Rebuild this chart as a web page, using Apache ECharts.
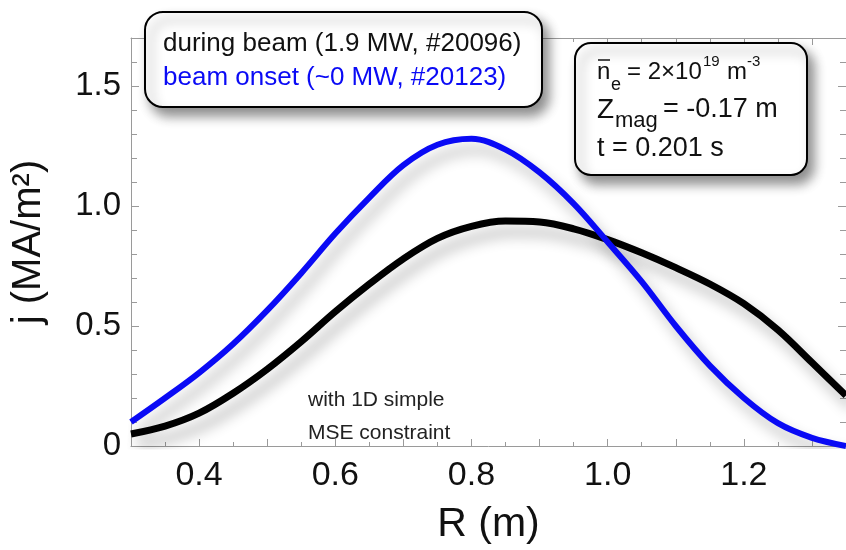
<!DOCTYPE html>
<html>
<head>
<meta charset="utf-8">
<script src="https://cdn.jsdelivr.net/npm/echarts@6/dist/echarts.min.js"></script>
<style>
  html, body { margin: 0; padding: 0; background: #fff; }
  #chart { width: 846px; height: 550px; }
</style>
</head>
<body>
<div id="chart"></div>
<script>
// R (m) sample points
var rValues = [0.30, 0.35, 0.40, 0.45, 0.50, 0.55, 0.60, 0.65, 0.70, 0.75, 0.80,
               0.85, 0.90, 0.95, 1.00, 1.05, 1.10, 1.15, 1.20, 1.25, 1.30, 1.35];
// j (MA/m2), during beam (1.9 MW, #20096)
var duringBeam = [0.05, 0.083, 0.137, 0.22, 0.32, 0.435, 0.56, 0.675, 0.78, 0.865, 0.915,
                  0.937, 0.933, 0.905, 0.86, 0.805, 0.743, 0.675, 0.593, 0.484, 0.348, 0.21];
// j (MA/m2), beam onset (~0 MW, #20123)
var beamOnset = [0.10, 0.20, 0.305, 0.425, 0.565, 0.72, 0.885, 1.035, 1.17, 1.255, 1.28,
                 1.235, 1.14, 1.01, 0.85, 0.685, 0.50, 0.335, 0.20, 0.095, 0.034, 0.0];
var xTickLabels = ['0.4', '0.6', '0.8', '1.0', '1.2'];
var yTickLabels = ['0', '0.5', '1.0', '1.5'];

var font = 'Liberation Sans, Arial, Helvetica, sans-serif';
var frameColor = '#9a9a9a';

function pairs(xs, ys) {
  var out = [];
  for (var i = 0; i < xs.length; i++) out.push([xs[i], ys[i]]);
  return out;
}

function xLabel(v) {
  var s = v.toFixed(1);
  return xTickLabels.indexOf(s) >= 0 ? s : '';
}
function yLabel(v) {
  var s = v === 0 ? '0' : v.toFixed(1);
  return yTickLabels.indexOf(s) >= 0 ? s : '';
}

var chart = echarts.init(document.getElementById('chart'));

var baseX = {
  type: 'value', min: 0.3, max: 1.35, interval: 0.1,
  axisLine: { show: true, onZero: false, lineStyle: { color: frameColor, width: 1 } },
  axisTick: { show: true, inside: true, length: 7, lineStyle: { color: frameColor } },
  minorTick: { show: true, splitNumber: 2, length: 4, lineStyle: { color: frameColor } },
  splitLine: { show: false }
};
var baseY = {
  type: 'value', min: 0, max: 1.7, interval: 0.5,
  axisLine: { show: true, onZero: false, lineStyle: { color: frameColor, width: 1 } },
  axisTick: { show: true, inside: true, length: 8, lineStyle: { color: frameColor } },
  minorTick: { show: true, splitNumber: 5, length: 6, lineStyle: { color: frameColor } },
  splitLine: { show: false }
};

var lineShadow = { shadowColor: 'rgba(0,0,0,0.3)', shadowBlur: 14, shadowOffsetX: 7, shadowOffsetY: 11 };

chart.setOption({
  animation: false,
  backgroundColor: '#fff',
  grid: { left: 131, right: -2, top: 38, bottom: 95 },
  xAxis: [
    Object.assign({}, baseX, {
      position: 'bottom',
      name: 'R (m)', nameLocation: 'middle', nameGap: 58,
      nameTextStyle: { fontFamily: font, fontSize: 41, color: '#111' },
      axisLabel: { show: true, formatter: xLabel, margin: 13, showMaxLabel: false,
                   fontFamily: font, fontSize: 34, color: '#111' }
    }),
    Object.assign({}, baseX, { position: 'top', axisLabel: { show: false } })
  ],
  yAxis: [
    Object.assign({}, baseY, {
      position: 'left',
      name: 'j (MA/m²)', nameLocation: 'middle', nameGap: 82,
      nameTextStyle: { fontFamily: font, fontSize: 40, color: '#111' },
      axisLabel: { show: true, formatter: yLabel, margin: 10, showMaxLabel: false,
                   fontFamily: font, fontSize: 33, color: '#111' }
    }),
    Object.assign({}, baseY, { position: 'right', axisLabel: { show: false } })
  ],
  series: [
    {
      name: 'during beam (1.9 MW, #20096)', type: 'line', smooth: 0.35,
      showSymbol: false,
      data: pairs(rValues, duringBeam),
      lineStyle: Object.assign({ color: '#000', width: 7 }, lineShadow),
      z: 3
    },
    {
      name: 'beam onset (~0 MW, #20123)', type: 'line', smooth: 0.35,
      showSymbol: false,
      data: pairs(rValues, beamOnset),
      lineStyle: Object.assign({ color: '#0a0af5', width: 6 }, lineShadow),
      z: 4
    }
  ],
  graphic: [
    // legend box
    {
      type: 'rect', z: 100,
      shape: { x: 145, y: 12, width: 397, height: 95, r: 18 },
      style: { fill: '#fff', stroke: '#000', lineWidth: 2,
               shadowColor: 'rgba(0,0,0,0.45)', shadowBlur: 12, shadowOffsetX: 6, shadowOffsetY: 8 }
    },
    { type: 'text', z: 101, left: 163, top: 31,
      style: { text: 'during beam (1.9 MW, #20096)', font: '26px ' + font, fill: '#111' } },
    { type: 'text', z: 101, left: 163, top: 65,
      style: { text: 'beam onset (~0 MW, #20123)', font: '26px ' + font, fill: '#0a0af5' } },

    // parameter box
    {
      type: 'rect', z: 100,
      shape: { x: 575, y: 43, width: 232, height: 132, r: 16 },
      style: { fill: '#fff', stroke: '#000', lineWidth: 2,
               shadowColor: 'rgba(0,0,0,0.45)', shadowBlur: 12, shadowOffsetX: 6, shadowOffsetY: 8 }
    },
    { type: 'line', z: 101, shape: { x1: 598, y1: 60, x2: 610, y2: 60 },
      style: { stroke: '#111', lineWidth: 1.5 } },
    { type: 'text', z: 101, x: 597, y: 72, style: { text: 'n', font: '24px ' + font, fill: '#111', verticalAlign: 'middle' } },
    { type: 'text', z: 101, x: 611, y: 85, style: { text: 'e', font: '18px ' + font, fill: '#111', verticalAlign: 'middle' } },
    { type: 'text', z: 101, x: 627, y: 72, style: { text: '= 2×10', font: '24px ' + font, fill: '#111', verticalAlign: 'middle' } },
    { type: 'text', z: 101, x: 703, y: 62, style: { text: '19', font: '15px ' + font, fill: '#111', verticalAlign: 'middle' } },
    { type: 'text', z: 101, x: 727, y: 72, style: { text: 'm', font: '24px ' + font, fill: '#111', verticalAlign: 'middle' } },
    { type: 'text', z: 101, x: 747, y: 62, style: { text: '-3', font: '15px ' + font, fill: '#111', verticalAlign: 'middle' } },

    { type: 'text', z: 101, x: 597, y: 110, style: { text: 'Z', font: '28px ' + font, fill: '#111', verticalAlign: 'middle' } },
    { type: 'text', z: 101, x: 615, y: 121, style: { text: 'mag', font: '22px ' + font, fill: '#111', verticalAlign: 'middle' } },
    { type: 'text', z: 101, x: 663, y: 110, style: { text: '= -0.17 m', font: '27px ' + font, fill: '#111', verticalAlign: 'middle' } },

    { type: 'text', z: 101, x: 597, y: 149, style: { text: 't = 0.201 s', font: '27px ' + font, fill: '#111', verticalAlign: 'middle' } },

    // annotation
    { type: 'text', z: 50, left: 308, top: 384,
      style: { text: 'with 1D simple\nMSE constraint', font: '21px ' + font, lineHeight: 33, fill: '#222' } }
  ]
});
</script>
</body>
</html>
